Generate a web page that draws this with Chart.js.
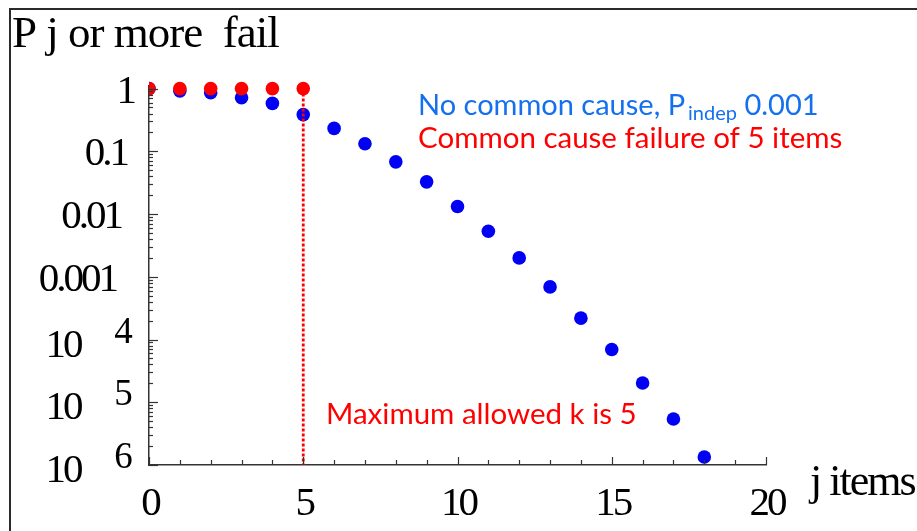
<!DOCTYPE html>
<html>
<head>
<meta charset="utf-8">
<script src="https://cdn.jsdelivr.net/npm/chart.js@4/dist/chart.umd.min.js"></script>
<style>
  body { margin: 0; background: #fff; }
  #wrap { width: 917px; height: 531px; }
</style>
</head>
<body>
<div id="wrap"><canvas id="failChart" width="917" height="531"></canvas></div>
<script>
// Probability that j or more items fail, log scale
const jItems = [0, 1, 2, 3, 4, 5, 6, 7, 8, 9, 10, 11, 12, 13, 14, 15, 16, 17, 18];
const pIndependent = [1, 0.92, 0.857, 0.713, 0.581, 0.385, 0.232, 0.132, 0.068, 0.0326,
  0.0132, 0.00533, 0.0020, 6.9e-4, 2.19e-4, 6.93e-5, 2.03e-5, 5.42e-6, 1.34e-6];
const jCommon = [0, 1, 2, 3, 4, 5];
const pCommon = [1, 1, 1, 1, 1, 1];
const kMax = 5;

const xTickValues = [0, 5, 10, 15, 20];
const yTickValues = [1, 0.1, 0.01, 0.001, 1e-4, 1e-5, 1e-6];
const yTickLabels = ['1', '0.1', '0.01', '0.001', '10^4', '10^5', '10^6'];

// right edges of the plain decimal labels
const plainLabelRight = [131, 124, 118, 113];

const SERIF = '"Liberation Serif", "Times New Roman", serif';
const SANS = 'Lato, "Open Sans", sans-serif';

// points are cut at the y axis but may spill above the plot area
const pointClip = { left: 0, top: 20, right: 20, bottom: 20 };

function hline(ctx, x1, y1, x2, y2) {
  ctx.beginPath();
  ctx.moveTo(x1, y1);
  ctx.lineTo(x2, y2);
  ctx.stroke();
}

const decorations = {
  id: 'decorations',
  beforeDraw(chart) {
    const ctx = chart.ctx;
    ctx.save();
    ctx.fillStyle = '#fff';
    ctx.fillRect(0, 0, chart.width, chart.height);
    // outer frame (left and top only)
    ctx.fillStyle = '#2a2a2a';
    ctx.fillRect(9, 8, 2, chart.height - 8);
    ctx.fillRect(9, 8, chart.width - 9, 2);
    ctx.restore();
  },
  afterDraw(chart) {
    const ctx = chart.ctx;
    const xs = chart.scales.x, ys = chart.scales.y;
    ctx.save();

    // inward tick marks
    ctx.strokeStyle = '#333';
    ctx.lineWidth = 1.2;
    for (let v = xs.min; v <= xs.max; v++) {
      const px = Math.round(xs.getPixelForValue(v)) + 0.5;
      hline(ctx, px, ys.bottom, px, ys.bottom - (v % 5 === 0 ? 8 : 5));
    }
    for (let e = -6; e <= 0; e++) {
      for (let m = 1; m <= 9; m++) {
        const v = m * Math.pow(10, e);
        if (v > ys.max) break;
        const py = Math.round(ys.getPixelForValue(v)) + 0.5;
        hline(ctx, xs.left, py, xs.left + (m === 1 ? 9 : 4), py);
      }
    }

    // tick labels
    ctx.fillStyle = '#000';
    ctx.letterSpacing = '-3px';
    ctx.textBaseline = 'alphabetic';
    ctx.font = '41px ' + SERIF;
    ctx.textAlign = 'center';
    xTickValues.forEach(v => {
      ctx.fillText(String(v), xs.getPixelForValue(v) + 1, 515);
    });
    yTickValues.forEach((v, i) => {
      const py = ys.getPixelForValue(v);
      const lab = yTickLabels[i];
      if (lab.includes('^')) {
        const [base, exp] = lab.split('^');
        ctx.font = '41px ' + SERIF;
        ctx.textAlign = 'center';
        ctx.fillText(base, 63, py + 17);
        ctx.font = '37px ' + SERIF;
        ctx.fillText(exp, 122, py + 3);
      } else {
        ctx.font = '41px ' + SERIF;
        ctx.textAlign = 'right';
        ctx.fillText(lab, plainLabelRight[i] + 3, py + 14);
      }
    });

    // axis titles
    ctx.textAlign = 'left';
    ctx.font = '45px ' + SERIF;
    ctx.letterSpacing = '-1px';
    ctx.fillText('P j or more  fail', 12, 47);
    ctx.font = '44px ' + SERIF;
    ctx.letterSpacing = '-2px';
    ctx.fillText('j items', 810, 495);

    // series notes
    ctx.letterSpacing = '0px';
    ctx.font = '29px ' + SANS;
    ctx.fillStyle = '#1570ef';
    let x = 418;
    const t1 = 'No common cause, P';
    ctx.fillText(t1, x, 115);
    x += ctx.measureText(t1).width;
    ctx.font = '20px ' + SANS;
    ctx.fillText('indep', x + 3, 120);
    x += ctx.measureText('indep').width + 3;
    ctx.font = '29px ' + SANS;
    ctx.fillText(' 0.001', x, 115);

    ctx.fillStyle = '#ff0000';
    ctx.font = '29.5px ' + SANS;
    ctx.fillText('Common cause failure of 5 items', 418, 148);
    ctx.fillText('Maximum allowed k is 5', 326, 424);

    ctx.restore();
  }
};

new Chart(document.getElementById('failChart'), {
  type: 'scatter',
  data: {
    datasets: [
      {
        label: 'No common cause',
        data: jItems.map((j, i) => ({ x: j, y: pIndependent[i] })),
        backgroundColor: '#0000f5',
        borderWidth: 0,
        pointRadius: 6.8,
        clip: pointClip,
        order: 3
      },
      {
        label: 'Maximum allowed k',
        type: 'line',
        data: [{ x: kMax, y: 1 }, { x: kMax, y: 1e-6 }],
        borderColor: '#ff0000',
        borderWidth: 2.8,
        borderDash: [3, 2],
        pointRadius: 0,
        order: 2
      },
      {
        label: 'Common cause failure',
        data: jCommon.map((j, i) => ({ x: j, y: pCommon[i] })),
        backgroundColor: '#ff0000',
        borderWidth: 0,
        pointRadius: 6.8,
        clip: pointClip,
        order: 1
      }
    ]
  },
  options: {
    responsive: false,
    devicePixelRatio: 1,
    animation: false,
    layout: { padding: { left: 149, top: 86, right: 151, bottom: 66 } },
    plugins: {
      legend: { display: false },
      tooltip: { enabled: false }
    },
    scales: {
      x: {
        type: 'linear',
        min: 0,
        max: 20,
        grid: { display: false },
        ticks: { display: false },
        border: { color: '#333', width: 1.5 },
        afterFit: s => { s.height = 0; }
      },
      y: {
        type: 'logarithmic',
        min: 1e-6,
        max: 1.1,
        grid: { display: false },
        ticks: { display: false },
        border: { color: '#333', width: 1.5 },
        afterFit: s => { s.width = 0; }
      }
    }
  },
  plugins: [decorations]
});
</script>
</body>
</html>
